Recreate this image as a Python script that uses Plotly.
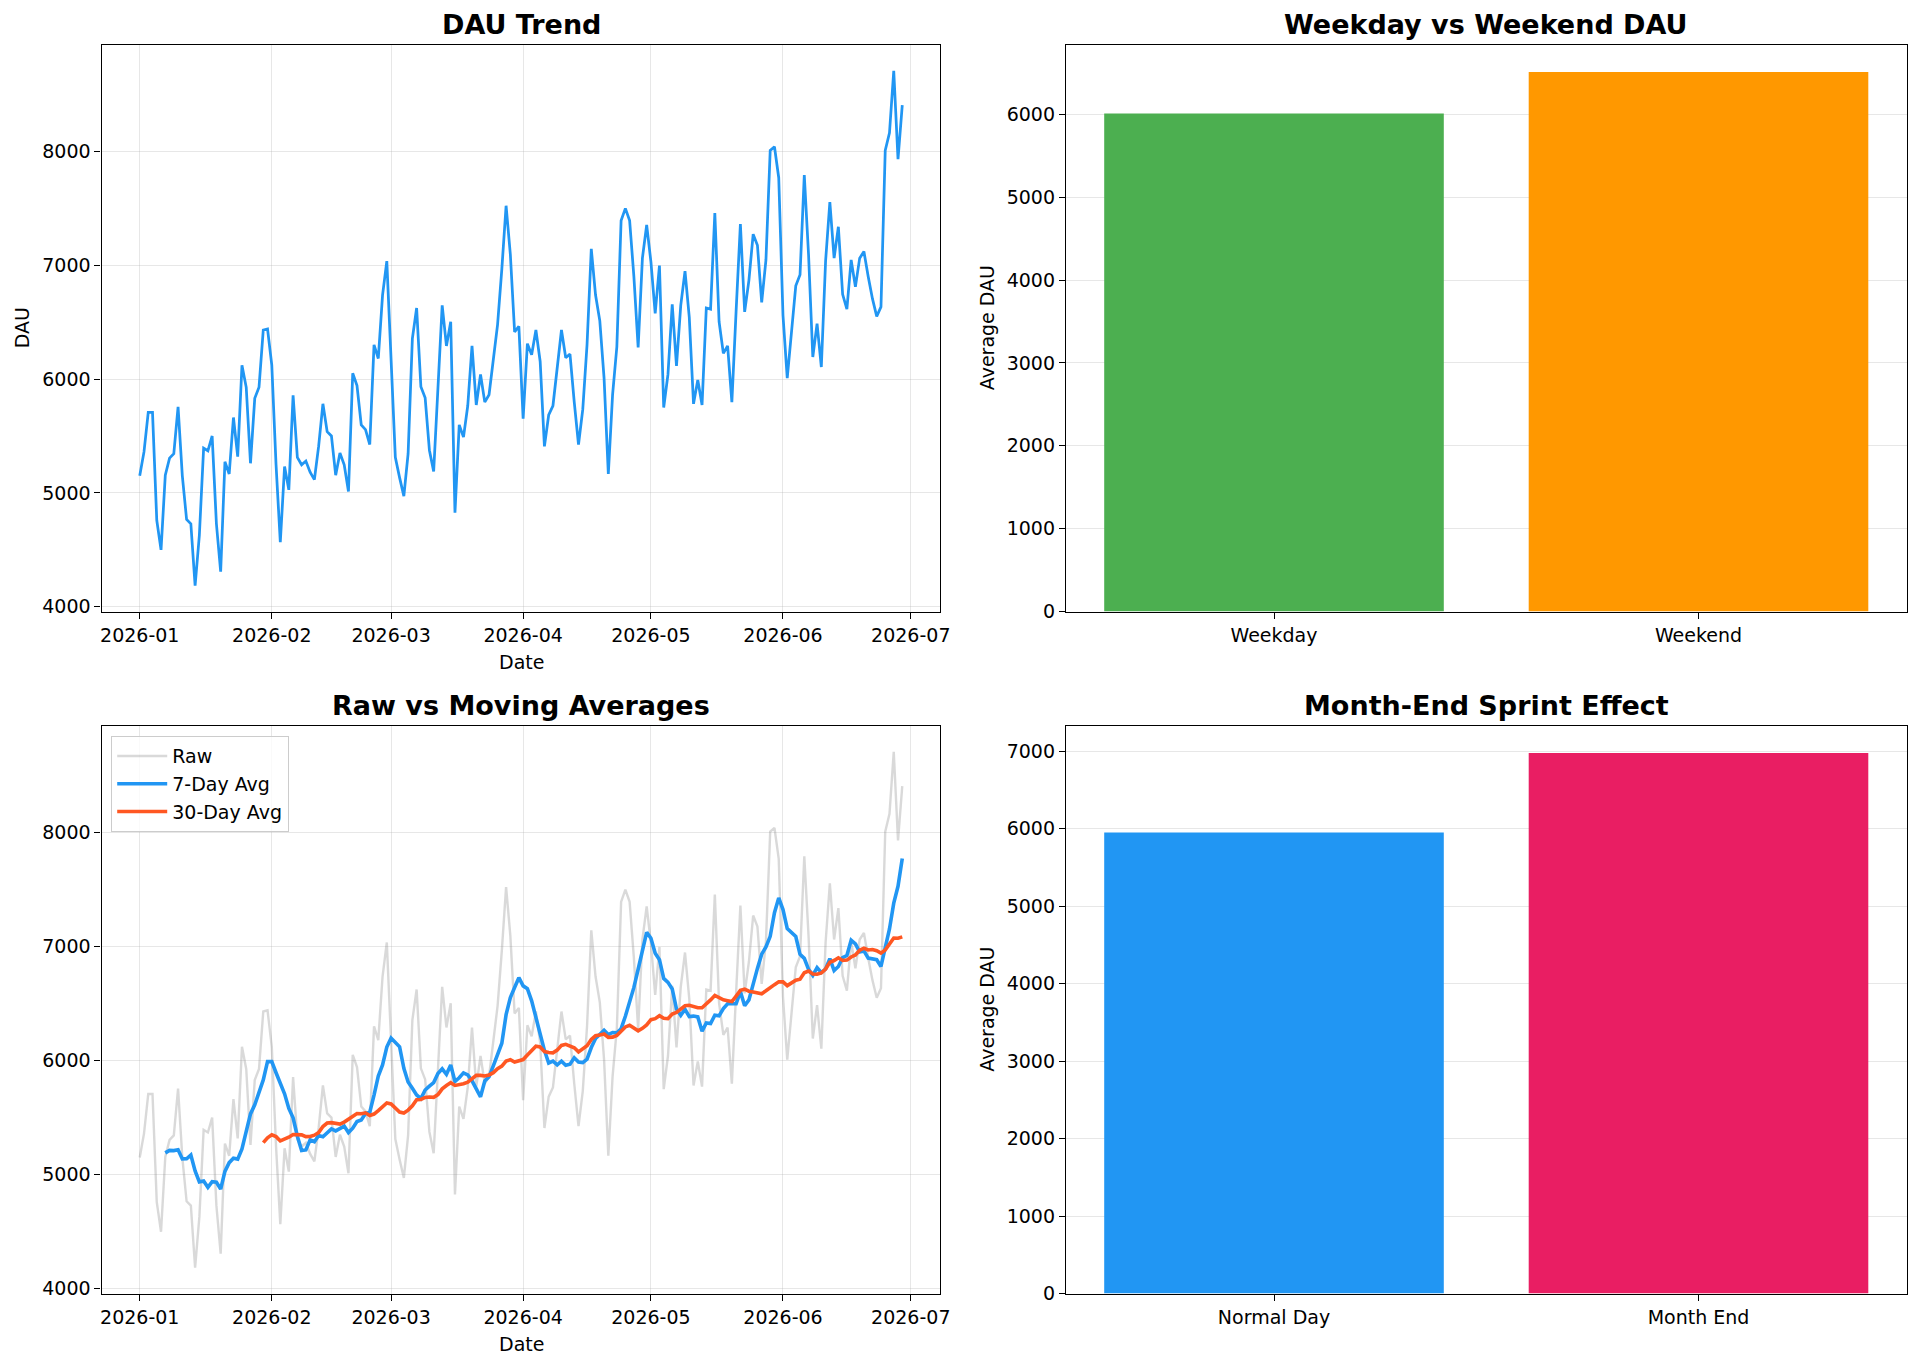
import pandas as pd
import plotly.graph_objects as go
from plotly.subplots import make_subplots

# ---------------- data ----------------
start_date = "2026-01-01"
dau = [
    5150, 5360, 5707, 5707, 4760, 4500, 5156, 5305, 5344, 5755,
    5150, 4767, 4729, 4185, 4630, 5393, 5370, 5500, 4729, 4308,
    5273, 5166, 5662, 5318, 6121, 5927, 5260, 5830, 5927, 6430,
    6440, 6121, 5247, 4567, 5231, 5027, 5856, 5312, 5247, 5280,
    5182, 5117, 5410, 5782, 5538, 5500, 5156, 5350, 5247, 5013,
    6050, 5943, 5597, 5555, 5425, 6300, 6180, 6737, 7035, 6150,
    5312, 5134, 4972, 5344, 6355, 6623, 5932, 5835, 5375, 5188,
    5894, 6646, 6290, 6503, 4826, 5597, 5490, 5765, 6290, 5772,
    6040, 5797, 5862, 6154, 6478, 6964, 7521, 7093, 6413, 6462,
    5652, 6310, 6212, 6430, 6154, 5409, 5684, 5765, 6089, 6430,
    6186, 6219, 5797, 5425, 5733, 6300, 7142, 6737, 6510, 6008,
    5166, 5862, 6283, 7391, 7498, 7391, 6899, 6278, 7061, 7352,
    7028, 6575, 6996, 5750, 6040, 6656, 6115, 6646, 6947, 6543,
    5782, 5992, 5772, 6623, 6613, 7456, 6503, 6225, 6290, 5797,
    6600, 7359, 6589, 6866, 7271, 7174, 6672, 7045, 8006, 8039,
    7767, 6559, 6008, 6413, 6818, 6915, 7790, 7093, 6193, 6486,
    6105, 7035, 7553, 7061, 7336, 6743, 6613, 7045, 6809, 7061,
    7119, 6899, 6705, 6550, 6633, 8006, 8162, 8706, 7929, 8405,
]
dates = pd.date_range(start_date, periods=len(dau), freq="D")

day_type_labels = ["Weekday", "Weekend"]
day_type_values = [6010, 6510]

month_end_labels = ["Normal Day", "Month End"]
month_end_values = [5950, 6975]

series_names = ["Raw", "7-Day Avg", "30-Day Avg"]
avg_windows = [7, 30]

titles = ["DAU Trend", "Weekday vs Weekend DAU", "Raw vs Moving Averages", "Month-End Sprint Effect"]

# moving averages derived from the raw series (as the original chart does)
raw = pd.Series(dau, index=dates)
ma7 = raw.rolling(avg_windows[0]).mean()
ma30 = raw.rolling(avg_windows[1]).mean()

# ---------------- styling ----------------
W, H = 1920, 1366
FONT = "DejaVu Sans"
TICK_SIZE = 19
TITLE_SIZE = 27
BLUE = "#2196F3"
GRID = "rgba(176,176,176,0.3)"

def px(xp):
    return xp / W

def py(yp):
    return 1 - yp / H

L_X = (101.6, 940.4)
R_X = (1066.0, 1906.5)
T_Y = (45.0, 611.5)
B_Y = (726.0, 1293.5)

fig = make_subplots(rows=2, cols=2)

# TL: DAU trend
fig.add_trace(go.Scatter(x=dates, y=dau, mode="lines",
                         line=dict(color=BLUE, width=2.75), showlegend=False),
              row=1, col=1)
# TR: weekday vs weekend
fig.add_trace(go.Bar(x=day_type_labels, y=day_type_values, width=0.8,
                     marker=dict(color=["#4CAF50", "#FF9800"], line=dict(width=0)),
                     showlegend=False),
              row=1, col=2)
# BL: raw vs moving averages
fig.add_trace(go.Scatter(x=dates, y=dau, mode="lines", name=series_names[0],
                         line=dict(color="rgba(128,128,128,0.3)", width=2.4)),
              row=2, col=1)
fig.add_trace(go.Scatter(x=dates, y=ma7, mode="lines", name=series_names[1],
                         line=dict(color=BLUE, width=3.6)),
              row=2, col=1)
fig.add_trace(go.Scatter(x=dates, y=ma30, mode="lines", name=series_names[2],
                         line=dict(color="#FF5722", width=3.6)),
              row=2, col=1)
# BR: month-end effect
fig.add_trace(go.Bar(x=month_end_labels, y=month_end_values, width=0.8,
                     marker=dict(color=[BLUE, "#E91E63"], line=dict(width=0)),
                     showlegend=False),
              row=2, col=2)

# ranges mimicking matplotlib autoscale (5% margins)
n_days = len(dau) - 1
pad_days = 0.05 * n_days
x_lo = dates[0] - pd.Timedelta(days=pad_days)
x_hi = dates[-1] + pd.Timedelta(days=pad_days)
y_min, y_max = min(dau), max(dau)
y_pad = 0.05 * (y_max - y_min)
line_yrange = [y_min - y_pad, y_max + y_pad]

common_axis = dict(
    showline=True, linecolor="black", linewidth=1.4, mirror=True,
    ticks="outside", ticklen=6, tickwidth=1.4, tickcolor="black",
    tickfont=dict(family=FONT, size=TICK_SIZE, color="black"),
    zeroline=False, automargin=False,
)

date_x = dict(common_axis, type="date", range=[x_lo, x_hi], dtick="M1",
              tick0="2026-01-01", tickformat="%Y-%m",
              showgrid=True, gridcolor=GRID, gridwidth=1.4)
cat_x = dict(common_axis, type="category", range=[-0.49, 1.49], showgrid=False)
num_y_line = dict(common_axis, range=line_yrange, dtick=1000,
                  showgrid=True, gridcolor=GRID, gridwidth=1.4)

fig.update_layout(
    width=W, height=H,
    margin=dict(l=0, r=0, t=0, b=0),
    paper_bgcolor="white", plot_bgcolor="white",
    font=dict(family=FONT, color="black"),
    bargap=0.2,
    xaxis=dict(date_x, domain=[px(L_X[0]), px(L_X[1])], anchor="y"),
    yaxis=dict(num_y_line, domain=[py(T_Y[1]), py(T_Y[0])], anchor="x"),
    xaxis2=dict(cat_x, domain=[px(R_X[0]), px(R_X[1])], anchor="y2"),
    yaxis2=dict(common_axis, domain=[py(T_Y[1]), py(T_Y[0])], anchor="x2",
                range=[0, max(day_type_values) * 1.05], dtick=1000,
                showgrid=True, gridcolor=GRID, gridwidth=1.4),
    xaxis3=dict(date_x, domain=[px(L_X[0]), px(L_X[1])], anchor="y3"),
    yaxis3=dict(num_y_line, domain=[py(B_Y[1]), py(B_Y[0])], anchor="x3"),
    xaxis4=dict(cat_x, domain=[px(R_X[0]), px(R_X[1])], anchor="y4"),
    yaxis4=dict(common_axis, domain=[py(B_Y[1]), py(B_Y[0])], anchor="x4",
                range=[0, max(month_end_values) * 1.05], dtick=1000,
                showgrid=True, gridcolor=GRID, gridwidth=1.4),
    legend=dict(x=px(111), y=py(736), xanchor="left", yanchor="top",
                bgcolor="rgba(255,255,255,0.8)", bordercolor="#cccccc",
                borderwidth=1.2, font=dict(family=FONT, size=TICK_SIZE, color="black"),
                tracegroupgap=0, itemwidth=50),
)

annots = []
# titles
for (xr, yr, t) in [(L_X, T_Y, titles[0]), (R_X, T_Y, titles[1]),
                    (L_X, B_Y, titles[2]), (R_X, B_Y, titles[3])]:
    annots.append(dict(text=f"<b>{t}</b>", x=px((xr[0] + xr[1]) / 2), y=py(yr[0] - 21),
                       xref="paper", yref="paper", xanchor="center", yanchor="middle",
                       showarrow=False, font=dict(family=FONT, size=TITLE_SIZE, color="black")))
# axis labels
label_font = dict(family=FONT, size=TICK_SIZE, color="black")
annots.append(dict(text="Date", x=px((L_X[0] + L_X[1]) / 2), y=py(T_Y[1] + 50),
                   xref="paper", yref="paper", xanchor="center", yanchor="middle",
                   showarrow=False, font=label_font))
annots.append(dict(text="Date", x=px((L_X[0] + L_X[1]) / 2), y=py(B_Y[1] + 50),
                   xref="paper", yref="paper", xanchor="center", yanchor="middle",
                   showarrow=False, font=label_font))
annots.append(dict(text="DAU", x=px(22), y=py((T_Y[0] + T_Y[1]) / 2), textangle=-90,
                   xref="paper", yref="paper", xanchor="center", yanchor="middle",
                   showarrow=False, font=label_font))
annots.append(dict(text="Average DAU", x=px(987), y=py((T_Y[0] + T_Y[1]) / 2), textangle=-90,
                   xref="paper", yref="paper", xanchor="center", yanchor="middle",
                   showarrow=False, font=label_font))
annots.append(dict(text="Average DAU", x=px(987), y=py((B_Y[0] + B_Y[1]) / 2), textangle=-90,
                   xref="paper", yref="paper", xanchor="center", yanchor="middle",
                   showarrow=False, font=label_font))
fig.update_layout(annotations=annots)

fig.write_html("out.html")
